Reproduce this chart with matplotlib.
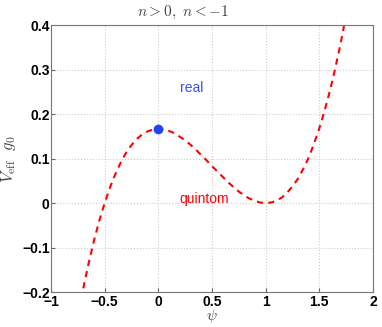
import numpy as np
import matplotlib.pyplot as plt

plt.rcParams['mathtext.fontset'] = 'cm'

# curve
psi = [-0.72, -0.70, -0.65, -0.60, -0.55, -0.50, -0.45, -0.40, -0.35, -0.30,
       -0.25, -0.20, -0.15, -0.10, -0.05, 0.00, 0.05, 0.10, 0.15, 0.20,
       0.25, 0.30, 0.35, 0.40, 0.45, 0.50, 0.55, 0.60, 0.65, 0.70,
       0.75, 0.80, 0.85, 0.90, 0.95, 1.00, 1.05, 1.10, 1.15, 1.20,
       1.25, 1.30, 1.35, 1.40, 1.45, 1.50, 1.55, 1.60, 1.65, 1.70, 1.74]
v_eff = [-0.217, -0.193, -0.136, -0.085, -0.040, 0.000, 0.035, 0.065, 0.091, 0.113,
         0.130, 0.144, 0.154, 0.161, 0.165, 0.167, 0.166, 0.162, 0.157, 0.149,
         0.141, 0.131, 0.120, 0.108, 0.096, 0.083, 0.071, 0.059, 0.047, 0.036,
         0.026, 0.017, 0.010, 0.005, 0.001, 0.000, 0.001, 0.005, 0.012, 0.023,
         0.037, 0.054, 0.076, 0.101, 0.132, 0.167, 0.207, 0.252, 0.303, 0.359, 0.409]

point_psi = [0.0]
point_v = [0.1667]

xticks = [-1, -0.5, 0, 0.5, 1, 1.5, 2]
xticklabels = ['\u22121', '\u22120.5', '0', '0.5', '1', '1.5', '2']
yticks = [-0.2, -0.1, 0, 0.1, 0.2, 0.3, 0.4]
yticklabels = ['\u22120.2', '\u22120.1', '0', '0.1', '0.2', '0.3', '0.4']

fig = plt.figure(figsize=(3.82, 3.27), dpi=100)
ax = fig.add_axes([0.1335, 0.107, 0.8425, 0.8165])

ax.plot(psi, v_eff, color='#ff0000', linestyle=(0, (3, 2.5)), linewidth=1.5)
ax.plot(point_psi, point_v, 'o', color='#1f45ff', markersize=6)

ax.text(0.2, 0.25, 'real', color='#3050ff', fontsize=10, family='Liberation Sans')
ax.text(0.2, 0.0, 'quintom', color='#ff0000', fontsize=10, family='Liberation Sans')

ax.set_xlim(-1, 2)
ax.set_ylim(-0.2, 0.4)
ax.set_xticks(xticks)
ax.set_xticklabels(xticklabels)
ax.set_yticks(yticks)
ax.set_yticklabels(yticklabels)
for lab in ax.get_xticklabels() + ax.get_yticklabels():
    lab.set_fontweight('bold')
    lab.set_fontsize(10)
    lab.set_family('Liberation Sans')
ax.tick_params(direction='in', length=3, color='#666666', pad=1)
ax.tick_params(axis='x', pad=2)
ax.grid(True, linestyle=':', color='#cccccc', linewidth=0.8)
for s in ax.spines.values():
    s.set_color('#777777')

fig.text(183 / 382, 1 - 12 / 327, r'$n>0,\ n<-1$', fontsize=11, color='#444444',
         ha='center', va='center')
ax.set_xlabel(r'$\psi$', fontsize=11, color='#444444', labelpad=-1)
ax.set_ylabel(r'$V_{\rm eff}\ \ g_0$', fontsize=12, color='#444444', labelpad=3)

fig.savefig('out.png', dpi=100)
